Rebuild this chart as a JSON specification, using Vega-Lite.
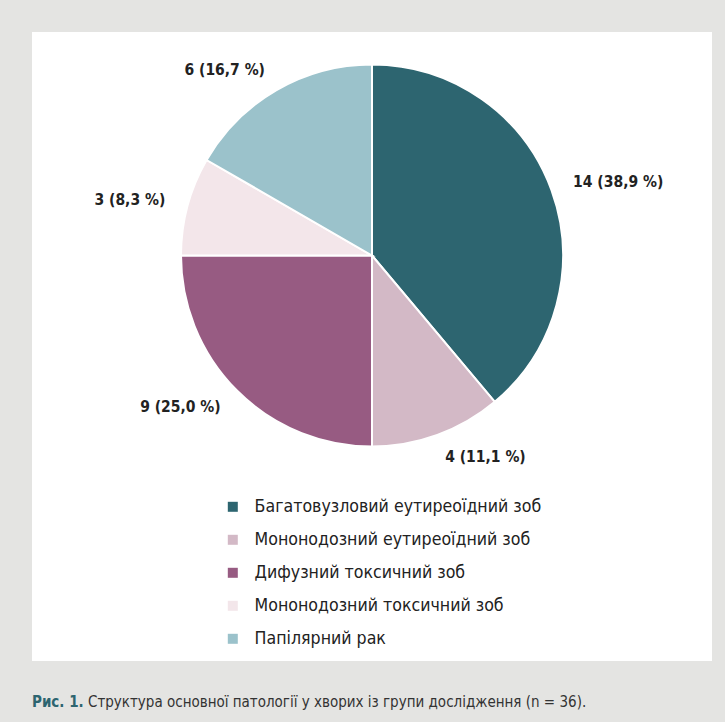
{
  "$schema": "https://vega.github.io/schema/vega-lite/v6.json",
  "background": "#e4e4e2",
  "padding": {"left": 32, "top": 32, "right": 13, "bottom": 20},
  "bounds": "flush",
  "spacing": 0,
  "data": {
    "values": [
      {"i": 1, "cat": "Багатовузловий еутиреоїдний зоб", "n": 14, "label": "14 (38,9 %)", "side": "right"},
      {"i": 2, "cat": "Мононодозний еутиреоїдний зоб", "n": 4, "label": "4 (11,1 %)", "side": "right"},
      {"i": 3, "cat": "Дифузний токсичний зоб", "n": 9, "label": "9 (25,0 %)", "side": "left"},
      {"i": 4, "cat": "Мононодозний токсичний зоб", "n": 3, "label": "3 (8,3 %)", "side": "left"},
      {"i": 5, "cat": "Папілярний рак", "n": 6, "label": "6 (16,7 %)", "side": "left"}
    ]
  },
  "vconcat": [
    {
      "width": 680,
      "height": 447,
      "view": {"fill": "white", "stroke": null},
      "encoding": {
        "theta": {"field": "n", "type": "quantitative", "stack": true},
        "order": {"field": "i", "type": "quantitative"},
        "color": {
          "field": "cat",
          "type": "nominal",
          "sort": null,
          "scale": {
            "domain": ["Багатовузловий еутиреоїдний зоб", "Мононодозний еутиреоїдний зоб", "Дифузний токсичний зоб", "Мононодозний токсичний зоб", "Папілярний рак"],
            "range": ["#2d6570", "#d3b9c6", "#975b82", "#f3e6ea", "#9bc2cb"]
          },
          "legend": {
            "title": null,
            "orient": "none",
            "legendX": 192,
            "legendY": 466,
            "symbolType": "square",
            "symbolSize": 100,
            "symbolStrokeWidth": 0,
            "labelFontSize": 17.6,
            "labelFont": "DejaVu Sans Condensed, sans-serif",
            "labelColor": "#222222",
            "labelOffset": 13,
            "labelLimit": 0,
            "rowPadding": 14,
            "padding": 0
          }
        }
      },
      "layer": [
        {"mark": {"type": "arc", "outerRadius": 191, "stroke": "white", "strokeWidth": 2}},
        {
          "mark": {
            "type": "text",
            "radius": 214,
            "align": {"expr": "datum.side === 'right' ? 'left' : 'right'"},
            "fontSize": 15.5,
            "fontWeight": "bold",
            "font": "DejaVu Sans Condensed, sans-serif",
            "color": "#222222"
          },
          "encoding": {
            "text": {"field": "label", "type": "nominal"},
            "color": {"value": "#222222"}
          }
        }
      ]
    },
    {
      "width": 680,
      "height": 182,
      "view": {"fill": "white", "stroke": null},
      "data": {"values": [{}]},
      "mark": {"type": "text", "text": ""},
      "encoding": {}
    },
    {
      "spacing": 4,
      "hconcat": [
        {
          "width": 45,
          "height": 1,
          "view": {"fill": null, "stroke": null},
          "data": {"values": [{}]},
          "mark": {"type": "text", "text": ""},
          "encoding": {},
          "title": {
            "text": "Рис. 1.",
            "orient": "bottom",
            "anchor": "start",
            "offset": 28,
            "fontSize": 15,
            "fontWeight": "bold",
            "font": "DejaVu Sans Condensed, sans-serif",
            "color": "#2d6570"
          }
        },
        {
          "width": 1,
          "height": 1,
          "view": {"fill": null, "stroke": null},
          "data": {"values": [{}]},
          "mark": {"type": "text", "text": ""},
          "encoding": {},
          "title": {
            "text": "Структура основної патології у хворих із групи дослідження (n = 36).",
            "orient": "bottom",
            "anchor": "start",
            "offset": 28,
            "fontSize": 15,
            "fontWeight": "normal",
            "font": "DejaVu Sans Condensed, sans-serif",
            "color": "#333333"
          }
        }
      ]
    }
  ],
  "config": {"view": {"stroke": null}}
}
